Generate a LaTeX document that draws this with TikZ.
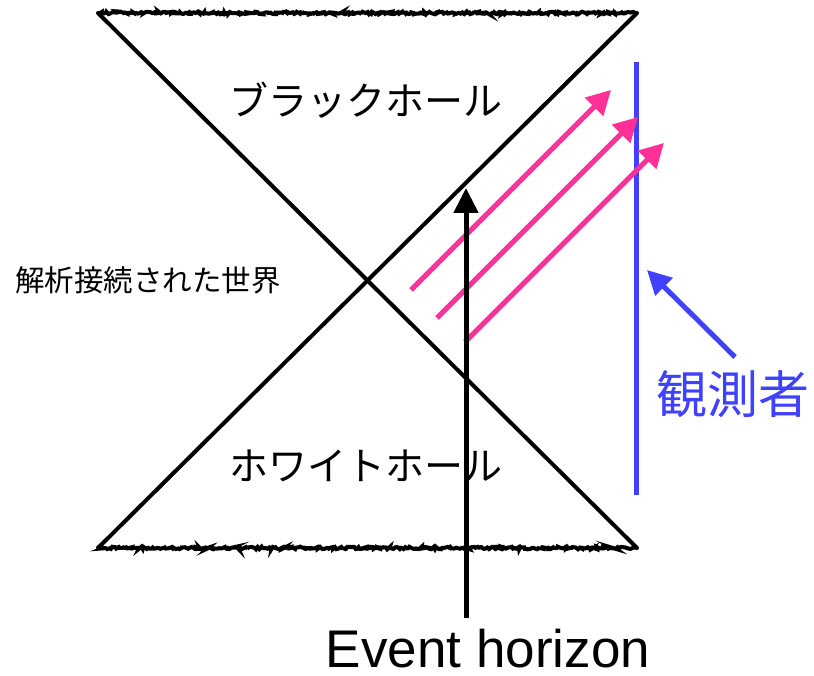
\documentclass[tikz,border=0pt]{standalone}
\usepackage{fontspec}
\setsansfont{Liberation Sans}
\newfontfamily\jpfont{Noto Sans CJK JP}
\usepackage{tikz}
\usetikzlibrary{arrows.meta,decorations.pathmorphing}
\definecolor{raypink}{RGB}{255,48,150}
\definecolor{obsblue}{RGB}{64,64,255}

\begin{document}
\begin{tikzpicture}[x=1pt, y=-1pt,
  edge/.style={line width=4pt, line cap=round},
  singular/.style={line width=4pt, decorate, decoration={random steps, segment length=1.5pt, amplitude=1.3pt}},
  ray/.style={-{Triangle[length=24pt, width=25pt]}, line width=5pt, raypink},
  obs/.style={line width=5pt, obsblue},
  lbl/.style={font=\jpfont\fontsize{39}{41}\selectfont, inner sep=0pt}]
\useasboundingbox (0,0) rectangle (814,676);
% corners of the diagram
\coordinate (tl) at (98,13);
\coordinate (tr) at (637,13);
\coordinate (bl) at (98,548);
\coordinate (br) at (637,548);
% singularities
\draw[singular] (tl) -- (tr);
\draw[singular] (bl) -- (br);
% horizons
\draw[edge] (tl) -- (br);
\draw[edge] (tr) -- (bl);
% labels
\node[lbl] (bh) at (366,100) {ブラックホール};
\node[lbl] (wh) at (366,466) {ホワイトホール};
\node[font=\jpfont\fontsize{29.5}{31}\selectfont, inner sep=0pt] (ext) at (148,280) {解析接続された世界};
% observer
\coordinate (obstop) at (636,62);
\coordinate (obsbot) at (636,495);
\draw[obs] (obstop) -- (obsbot);
\node[font=\jpfont\fontsize{51}{53}\selectfont, text=obsblue, inner sep=0pt] (obsname) at (733,394) {観測者};
\coordinate (obsarr) at (735,357);
\coordinate (obstip) at (647,270);
\draw[obs, -{Triangle[length=24pt, width=24pt]}] (obsarr) -- (obstip);
% light rays
\coordinate (r1s) at (411,290); \coordinate (r1e) at (611,90);
\coordinate (r2s) at (437,318); \coordinate (r2e) at (638,117);
\coordinate (r3s) at (465,342); \coordinate (r3e) at (664,143);
\draw[ray] (r1s) -- (r1e);
\draw[ray] (r2s) -- (r2e);
\draw[ray] (r3s) -- (r3e);
% event horizon arrow
\node[font=\sffamily\fontsize{53}{55}\selectfont, inner sep=0pt, text depth=0pt, anchor=base] (ev) at (488,667) {Event horizon};
\coordinate (evtop) at (466,188);
\coordinate (evbot) at (466,618);
\draw[line width=5pt, -{Triangle[length=25pt, width=24pt]}] (evbot) -- (evtop);
\end{tikzpicture}
\end{document}
